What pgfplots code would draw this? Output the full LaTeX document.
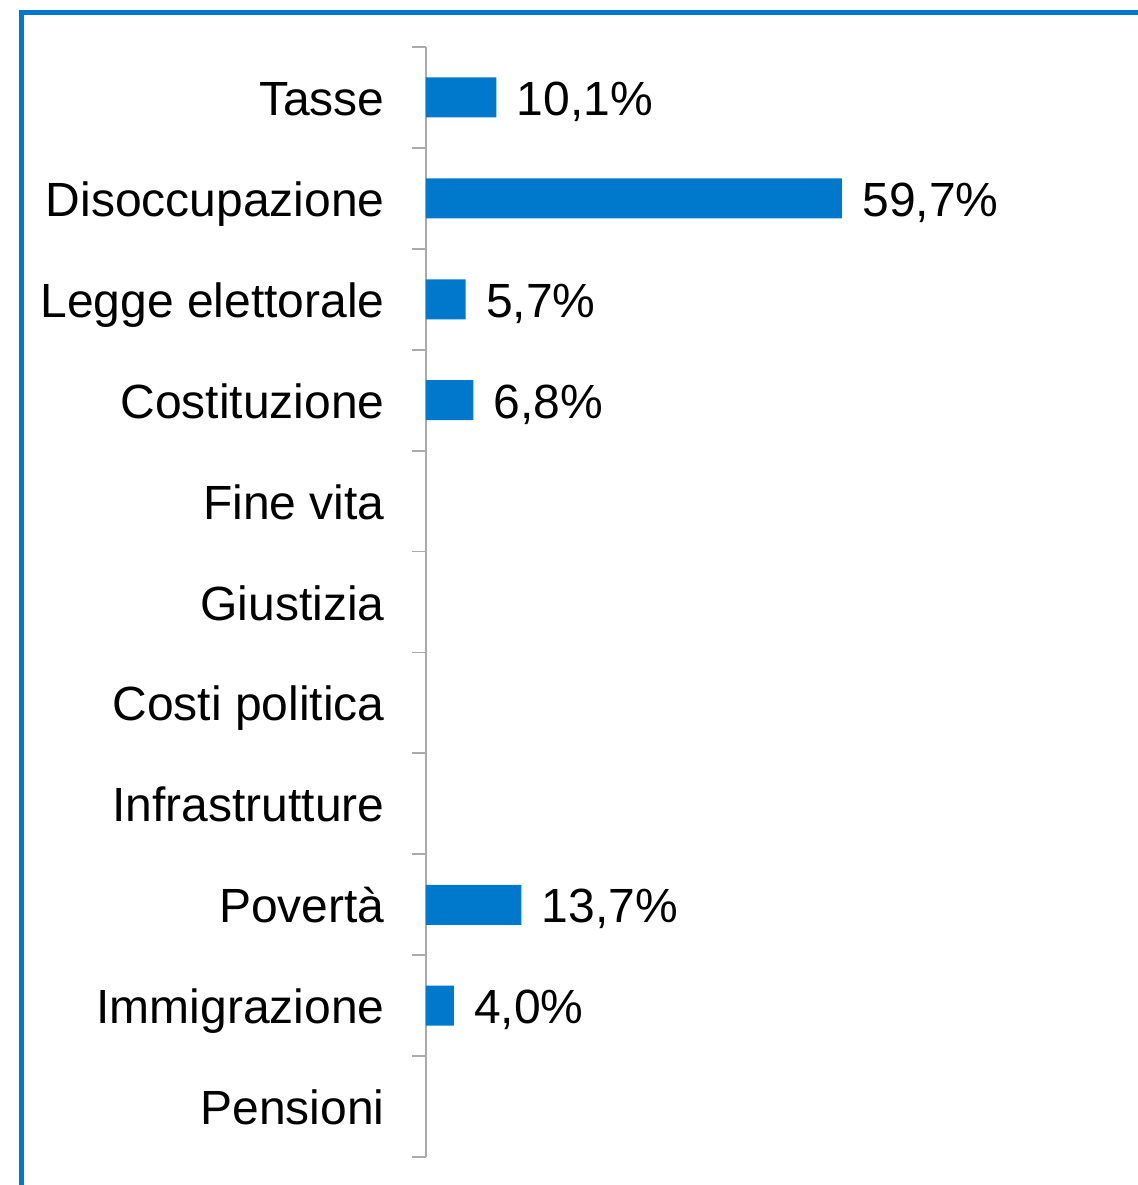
\documentclass[border=0pt]{standalone}
\usepackage{pgfplots}
\pgfplotsset{compat=1.18}
\usepackage{fontspec}
\setmainfont{Liberation Sans}
\definecolor{barblue}{RGB}{0,120,204}
\definecolor{axisgray}{RGB}{170,170,170}

\pgfplotstableread{
pos val
0 10.1
1 59.7
2 5.7
3 6.8
8 13.7
9 4.0
}\issues

\begin{document}
\begin{tikzpicture}[x=1pt,y=1pt]
    % outer blue frame (top and left edges only are visible)
    \draw[barblue, line width=2.5pt] (10.75,-600) -- (10.75,-6.25) -- (580,-6.25);

    \begin{axis}[
            at={(213pt,-578.5pt)},
            anchor=south west,
            scale only axis,
            width=348.4pt,
            height=555pt,
            xmin=0, xmax=100,
            ymin=-0.5, ymax=10.5,
            y dir=reverse,
            axis x line=none,
            axis y line*=left,
            y axis line style={axisgray, line width=0.9pt, -},
            xbar,
            bar width=20pt,
            ytick={0,...,10},
            yticklabels={Tasse,Disoccupazione,Legge elettorale,Costituzione,Fine vita,Giustizia,Costi politica,Infrastrutture,Povertà,Immigrazione,Pensioni},
            major tick length=0pt,
            minor ytick={-0.5,0.5,...,10.5},
            minor tick length=7pt,
            tick align=outside,
            minor tick style={axisgray, line width=0.9pt},
            yticklabel style={font=\fontsize{24}{28}\selectfont, anchor=base east, inner sep=0pt, xshift=-20.5pt, yshift=-9pt},
            /pgf/number format/.cd, fixed, zerofill, precision=1, use comma, assume math mode=true,
            /pgfplots/.cd,
            nodes near coords={\pgfmathprintnumber{\pgfplotspointmeta}\%},
            every node near coord/.append style={font=\fontsize{24}{28}\selectfont, black, anchor=base west, inner sep=0pt, xshift=10pt, yshift=-9pt},
        ]
        \addplot[draw=none, fill=barblue] table[x=val, y=pos] {\issues};
    \end{axis}

    \pgfresetboundingbox
    \useasboundingbox (0,0) rectangle (569,-592.5);
\end{tikzpicture}
\end{document}
